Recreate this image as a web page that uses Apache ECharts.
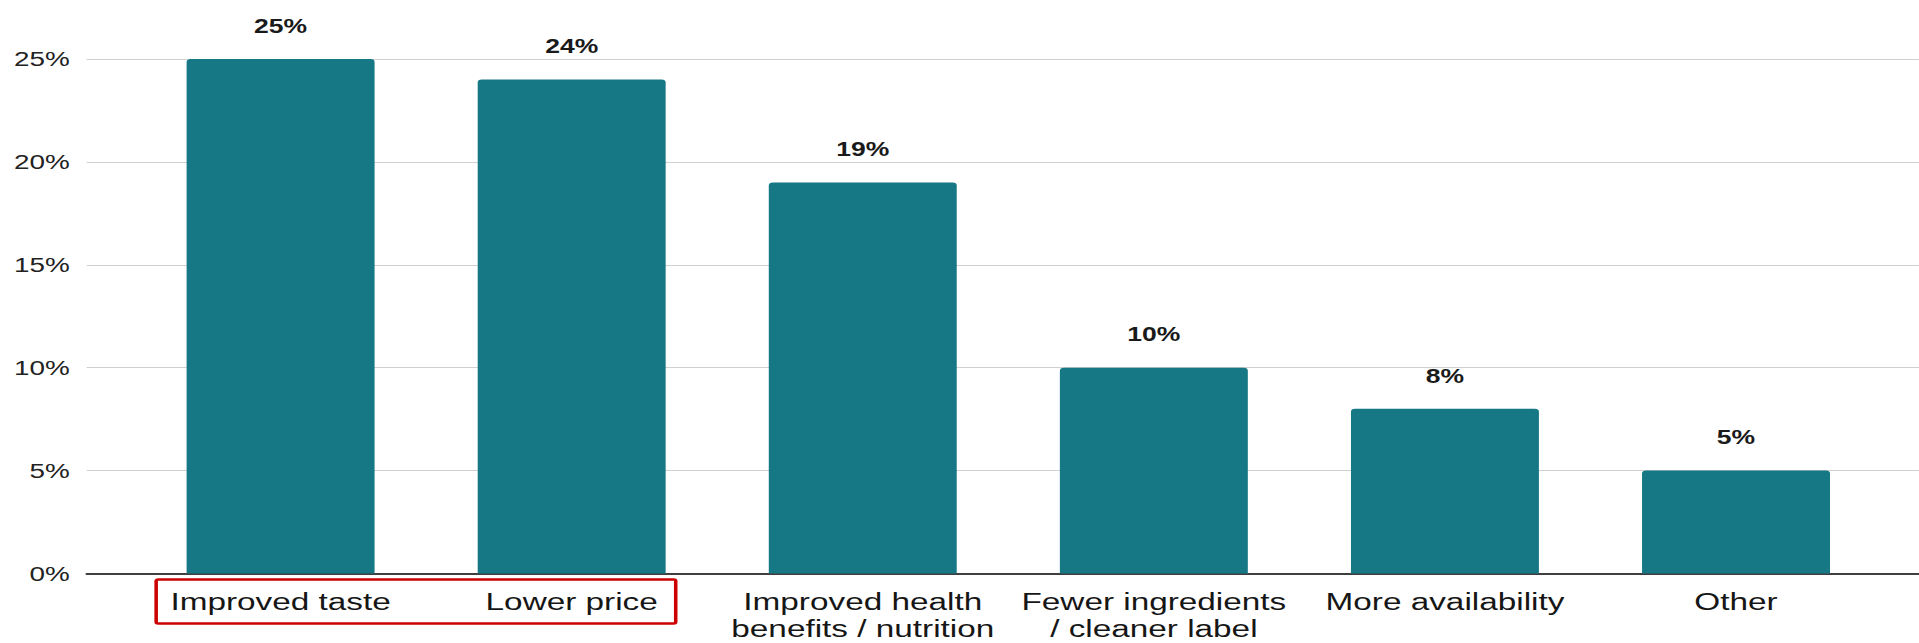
<!DOCTYPE html>
<html>
<head>
<meta charset="utf-8">
<script src="https://cdn.jsdelivr.net/npm/echarts@6/dist/echarts.min.js"></script>
<style>
  html, body { margin: 0; padding: 0; background: #fff; overflow: hidden; }
  #wrap { width: 1919px; height: 643px; overflow: hidden; }
  #chart { width: 1411px; height: 643px; transform: scaleX(1.36); transform-origin: 0 0; }
</style>
</head>
<body>
<div id="wrap"><div id="chart"></div></div>
<script>
// ---- data ----
const categories = [
  'Improved taste',
  'Lower price',
  'Improved health\nbenefits / nutrition',
  'Fewer ingredients\n/ cleaner label',
  'More availability',
  'Other'
];
const values = [25, 24, 19, 10, 8, 5];
const yMin = 0;
const yMax = 25;
const yStep = 5;
const highlighted = [0, 1]; // categories framed by the red box

// ---- chart ----
const FONT = 'Arial, "Liberation Sans", Helvetica, sans-serif';
const chart = echarts.init(document.getElementById('chart'), null, { renderer: 'svg' });

const option = {
  animation: false,
  backgroundColor: '#ffffff',
  grid: [
    { left: 63.8, right: 0, top: 59, bottom: 69.5 },
    { left: 99.3, right: 27.5, top: 59, bottom: 69.5 }
  ],
  xAxis: [
    {
      gridIndex: 0, type: 'value', min: 0, max: 1,
      axisLine: { show: true, lineStyle: { color: '#3f3f3f', width: 2 } },
      axisTick: { show: false }, axisLabel: { show: false }, splitLine: { show: false }
    },
    {
      gridIndex: 1, type: 'category', data: categories,
      axisLine: { show: false }, axisTick: { show: false },
      axisLabel: {
        interval: 0, margin: 14.5,
        fontFamily: FONT, fontSize: 24.5, lineHeight: 27, color: '#161616', align: 'center'
      }
    }
  ],
  yAxis: [
    {
      gridIndex: 0, type: 'value', min: yMin, max: yMax, interval: yStep,
      axisLine: { show: false }, axisTick: { show: false },
      axisLabel: {
        margin: 12.5, fontFamily: FONT, fontSize: 20.5, color: '#222222',
        formatter: v => v + '%'
      },
      splitLine: { show: true, lineStyle: { color: '#d0d0d0', width: 1.2 } }
    },
    {
      gridIndex: 1, type: 'value', min: yMin, max: yMax, interval: yStep, show: false,
      splitLine: { show: false }
    }
  ],
  series: [
    {
      type: 'bar', xAxisIndex: 1, yAxisIndex: 1,
      data: values, barWidth: 138.2,
      itemStyle: { color: '#167885', borderRadius: [3, 3, 0, 0] },
      label: {
        show: true, position: 'top', distance: 23,
        fontFamily: FONT, fontWeight: 'bold', fontSize: 19.5, color: '#1a1a1a',
        formatter: p => p.value + '%'
      },
      z: 3
    }
  ]
};
chart.setOption(option);

// red annotation box framing the first two category labels
const pA = chart.convertToPixel({ xAxisIndex: 1, yAxisIndex: 1 }, [highlighted[0], yMin]);
const pB = chart.convertToPixel({ xAxisIndex: 1, yAxisIndex: 1 }, [highlighted[1], yMin]);
const boxLeft = pA[0] - 91.5;
const boxRight = pB[0] + 76.5;
chart.setOption({
  graphic: [{
    type: 'rect',
    shape: { x: boxLeft, y: pA[1] + 6, width: boxRight - boxLeft, height: 44, r: 1.5 },
    style: { fill: 'none', stroke: '#cc0000', lineWidth: 2.6 },
    z: 10
  }]
});
</script>
</body>
</html>
